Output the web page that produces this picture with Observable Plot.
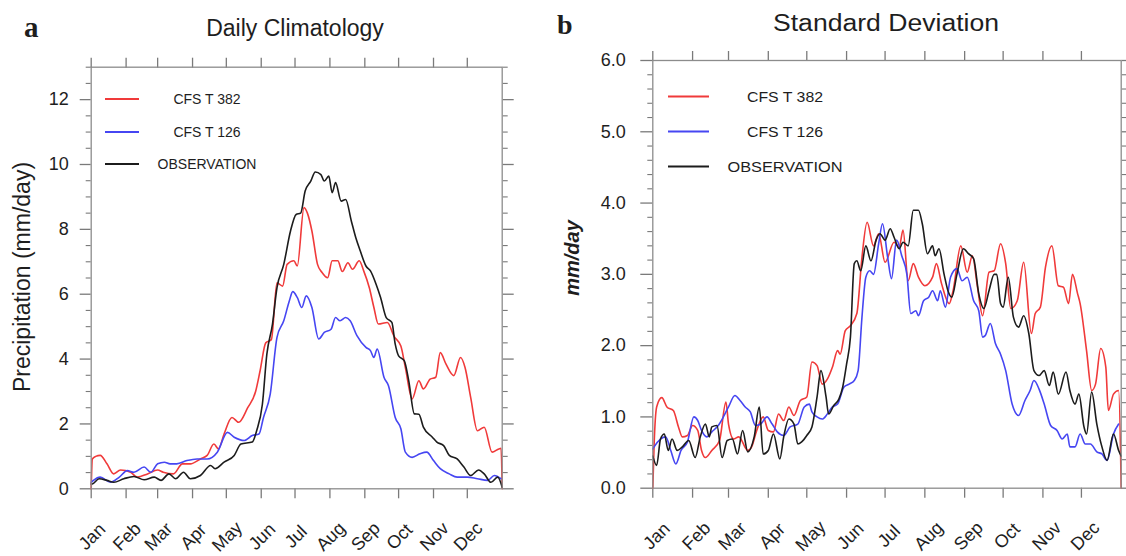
<!DOCTYPE html>
<html>
<head>
<meta charset="utf-8">
<script src="https://cdn.jsdelivr.net/npm/d3@7"></script>
<script src="https://cdn.jsdelivr.net/npm/@observablehq/plot@0.6"></script>
<style>
  html, body { margin: 0; padding: 0; background: #fff; }
  #fig { position: relative; width: 1126px; height: 556px; background: #fff; overflow: hidden; }
  #fig > svg { position: absolute; top: 0; }
</style>
</head>
<body>
<div id="fig"></div>
<script>
// ---------- data ----------
const monthStarts = [0, 31, 59, 90, 120, 151, 181, 212, 243, 273, 304, 334];
const monthLabels = ["Jan", "Feb", "Mar", "Apr", "May", "Jun", "Jul", "Aug", "Sep", "Oct", "Nov", "Dec"];
const seriesNames = ["CFS T 382", "CFS T 126", "OBSERVATION"];
const climYTicks = [0, 2, 4, 6, 8, 10, 12];
const sdYTicks = [0, 1, 2, 3, 4, 5, 6];

// Panel a: daily climatology (mm/day), [day of year, value]
const climT382 = [[0,0],[1,0.92],[4,1.0],[8,1.03],[14,0.77],[20,0.46],[26,0.58],[35,0.51],[41,0.36],[50,0.46],[59,0.58],[64,0.51],[73,0.46],[81,0.77],[88,0.77],[97,0.92],[103,1.03],[109,1.38],[113,1.23],[118,1.69],[125,2.2],[131,2.05],[139,2.5],[146,3.0],[150,3.64],[155,4.5],[160,4.6],[165,6.35],[170,6.25],[174,6.92],[180,7.03],[183,6.87],[189,8.67],[192,8.5],[196,7.95],[201,6.92],[205,6.67],[210,6.51],[214,7.03],[219,7.03],[223,6.7],[228,6.97],[232,6.77],[238,7.03],[242,6.72],[247,6.2],[251,5.6],[255,5.08],[263,5.13],[269,4.7],[275,4.4],[279,3.74],[285,2.77],[291,3.33],[295,3.08],[301,3.38],[306,3.44],[310,4.2],[315,3.85],[322,3.49],[328,4.05],[332,3.74],[337,2.82],[343,1.79],[349,1.9],[356,1.13],[362,1.23],[364,1.25],[365,0]];
const climT126 = [[0,0.2],[2,0.26],[8,0.36],[17,0.2],[25,0.36],[32,0.56],[38,0.51],[47,0.67],[53,0.51],[59,0.77],[65,0.82],[70,0.77],[76,0.77],[85,0.87],[94,0.92],[103,0.92],[112,1.13],[121,1.74],[127,1.59],[136,1.49],[143,1.64],[149,1.69],[153,2.2],[159,2.92],[165,4.67],[171,5.18],[176,5.8],[179,6.08],[183,5.9],[187,5.59],[191,5.95],[196,5.59],[202,4.62],[207,4.82],[213,4.92],[217,5.28],[221,5.18],[226,5.28],[230,5.18],[236,4.72],[244,4.36],[248,4.26],[251,4.05],[254,4.31],[260,3.44],[264,3.18],[270,2.2],[275,1.85],[279,1.13],[285,0.97],[292,1.08],[298,1.13],[304,0.87],[310,0.62],[318,0.46],[325,0.36],[334,0.36],[343,0.31],[352,0.26],[358,0.41],[364,0.31]];
const climObs = [[0,0.15],[1,0.15],[7,0.31],[14,0.26],[20,0.2],[29,0.31],[38,0.38],[47,0.28],[56,0.36],[62,0.26],[69,0.46],[75,0.31],[82,0.51],[88,0.31],[97,0.41],[106,0.72],[110,0.62],[118,0.82],[127,1.03],[133,1.38],[143,1.44],[147,1.8],[152,2.6],[156,4.15],[161,5.08],[165,6.2],[171,6.92],[177,7.95],[182,8.46],[186,8.5],[190,9.18],[195,9.49],[199,9.77],[204,9.69],[207,9.49],[211,9.64],[214,9.13],[217,9.44],[222,8.87],[226,8.92],[231,8.26],[235,7.74],[239,7.33],[244,6.87],[248,6.72],[253,6.31],[257,5.9],[262,5.28],[267,5.13],[270,4.46],[273,4.1],[278,3.95],[282,3.33],[287,2.31],[291,2.3],[295,1.9],[303,1.59],[307,1.44],[313,1.33],[318,1.03],[325,0.92],[331,0.67],[337,0.41],[344,0.58],[349,0.46],[355,0.2],[361,0.36],[365,0.05]];

// Panel b: standard deviation (mm/day), [day of year, value]
const sdT382 = [[0,0],[1,0.6],[3,1.14],[7,1.27],[11,1.14],[16,1.09],[20,0.86],[23,0.72],[27,0.74],[31,0.88],[35,0.81],[38,0.53],[41,0.43],[46,0.53],[52,0.67],[57,1.21],[59,0.9],[63,0.69],[67,0.72],[74,0.53],[77,0.58],[81,0.81],[86,1.0],[90,0.81],[94,0.79],[98,1.04],[102,0.95],[106,1.14],[110,1.02],[115,1.23],[120,1.28],[124,1.77],[128,1.72],[132,1.46],[136,1.53],[140,1.7],[144,1.93],[146,1.88],[150,2.21],[154,2.28],[159,2.45],[163,3.24],[167,3.73],[172,3.4],[176,3.57],[181,3.17],[188,3.45],[192,3.38],[195,3.62],[199,2.91],[203,3.15],[207,2.96],[212,2.84],[218,2.96],[221,3.15],[225,2.87],[231,2.59],[234,2.77],[240,3.4],[245,3.03],[249,3.26],[253,2.82],[257,2.42],[262,3.03],[266,3.05],[271,3.43],[275,3.15],[279,2.52],[284,2.63],[289,3.17],[295,2.17],[298,2.45],[302,2.54],[306,3.1],[311,3.4],[316,2.84],[320,2.82],[324,2.59],[327,3.0],[331,2.73],[333,2.59],[338,1.93],[342,1.37],[345,1.46],[349,1.96],[353,1.7],[355,1.09],[359,1.32],[363,1.37],[365,0]];
const sdT126 = [[0,0.55],[1,0.58],[6,0.69],[10,0.72],[14,0.53],[18,0.34],[22,0.53],[27,0.65],[32,1.0],[35,0.95],[38,0.81],[42,0.72],[46,0.79],[51,0.88],[55,1.0],[59,1.14],[64,1.3],[68,1.23],[72,1.14],[76,1.07],[80,0.88],[84,0.9],[89,1.0],[93,0.9],[97,0.79],[102,0.74],[107,0.86],[113,0.9],[118,1.14],[122,1.18],[124,1.07],[128,1.0],[132,0.97],[136,1.04],[140,1.14],[144,1.18],[149,1.42],[153,1.46],[157,1.51],[160,1.65],[163,2.4],[166,2.96],[169,3.05],[172,3.0],[176,3.43],[179,3.71],[183,3.24],[186,2.94],[190,3.48],[194,3.26],[198,3.0],[201,2.45],[205,2.49],[207,2.42],[211,2.63],[215,2.68],[218,2.77],[222,2.63],[224,2.77],[228,2.54],[232,2.96],[237,3.08],[241,2.91],[245,2.96],[250,2.63],[254,2.49],[257,2.12],[259,2.14],[263,2.31],[267,2.03],[271,1.88],[275,1.65],[280,1.18],[285,1.02],[290,1.23],[294,1.37],[297,1.51],[301,1.39],[305,1.18],[310,0.88],[315,0.81],[319,0.69],[323,0.76],[325,0.58],[329,0.58],[333,0.76],[337,0.62],[341,0.62],[346,0.51],[350,0.48],[354,0.39],[359,0.76],[363,0.9]];
const sdObs = [[0,0.45],[3,0.32],[6,0.69],[9,0.76],[12,0.53],[15,0.69],[19,0.53],[23,0.58],[28,0.67],[33,0.43],[37,0.72],[41,0.9],[44,0.72],[46,0.86],[50,0.88],[54,0.43],[58,0.67],[62,0.69],[66,0.48],[70,0.81],[74,0.51],[79,0.72],[83,1.14],[86,0.48],[90,0.53],[94,0.76],[99,0.41],[102,0.72],[106,0.97],[110,0.9],[113,0.62],[116,0.65],[120,0.74],[124,0.86],[128,1.28],[131,1.65],[135,1.28],[137,1.04],[141,1.16],[145,1.25],[148,1.42],[151,1.74],[154,2.12],[157,3.15],[159,3.19],[162,3.05],[166,3.4],[170,3.19],[174,3.48],[177,3.57],[181,3.48],[185,3.64],[188,3.52],[192,3.36],[195,3.45],[199,3.4],[203,3.9],[207,3.9],[210,3.71],[214,3.29],[218,3.4],[220,3.26],[223,3.36],[227,3.0],[230,2.77],[233,2.68],[237,3.0],[242,3.36],[246,3.29],[250,3.22],[254,2.73],[258,2.52],[262,2.77],[266,3.0],[268,3.0],[271,2.59],[273,2.54],[277,2.96],[281,2.4],[285,2.26],[289,2.42],[293,2.17],[297,1.65],[301,1.58],[305,1.65],[309,1.44],[312,1.63],[316,1.32],[322,1.63],[325,1.37],[329,1.18],[332,1.32],[336,0.86],[338,0.76],[342,1.35],[346,0.9],[350,0.58],[354,0.39],[359,0.76],[363,0.53],[365,0.45]];

// ---------- styling ----------
const FONT = "'Liberation Sans', Arial, Helvetica, sans-serif";
const SERIF = "'Liberation Serif', 'Times New Roman', serif";
const COLORS = ["#f03a3a", "#4646f2", "#1c1c1c"];
const TICK = "#7a7a7a";
const FRAME = "#8c8c8c";
const TEXT = "#1e1e1e";

function makePanel(o) {
  const minorTicks = d3.range(0, o.yMax + 1e-9, o.minorStep)
    .filter(v => !o.yTicks.some(t => Math.abs(t - v) < 1e-9));
  const blank = () => "";
  const lines = o.series.map((s, k) =>
    Plot.line(s, {x: d => d[0], y: d => d[1], stroke: COLORS[k], strokeWidth: 1.6,
                  strokeLinejoin: "round", curve: "monotone-x"}));
  return Plot.plot({
    width: o.width, height: 556,
    marginLeft: o.mL, marginRight: o.mR, marginTop: o.mT, marginBottom: o.mB,
    style: {fontFamily: FONT, background: "transparent", overflow: "visible", color: TEXT},
    x: {domain: [0, 365]},
    y: {domain: [0, o.yMax]},
    marks: [
      Plot.axisY({ticks: minorTicks, tickSize: 5, tickFormat: blank, stroke: TICK, strokeWidth: 1.1, label: null}),
      Plot.axisY({ticks: minorTicks, anchor: "right", tickSize: 5, tickFormat: blank, stroke: TICK, strokeWidth: 1.1, label: null}),
      Plot.axisY({ticks: o.yTicks, tickSize: o.majorTick, tickPadding: o.tickPad, tickFormat: o.fmt, fontSize: o.fs, stroke: TICK, strokeWidth: 1.3, fill: TEXT, label: null}),
      Plot.axisY({ticks: o.yTicks, anchor: "right", tickSize: o.majorTick, tickFormat: blank, stroke: TICK, strokeWidth: 1.3, label: null}),
      Plot.axisX({ticks: monthStarts, anchor: "top", tickSize: 10, tickFormat: blank, stroke: TICK, strokeWidth: 1.3, label: null}),
      Plot.axisX({ticks: monthStarts, anchor: "bottom", tickSize: 10, tickFormat: blank, stroke: TICK, strokeWidth: 1.3, label: null}),
      Plot.text(monthLabels, {x: (d, i) => monthStarts[i], frameAnchor: "bottom", dx: o.labDx, dy: 52, rotate: -45, fontSize: 18, fill: TEXT}),
      ...lines,
      Plot.frame({stroke: FRAME, strokeWidth: 1.3})
    ]
  });
}

const fig = document.getElementById("fig");

const panelA = makePanel({
  width: 540, mL: 90.7, mR: 38.3, mT: 66.7, mB: 67.7,
  yMax: 13, yTicks: climYTicks, minorStep: 0.5, majorTick: 11, tickPad: 11.5,
  fmt: d3.format("d"), fs: 18, labDx: 5,
  series: [climT382, climT126, climObs]
});
panelA.style.left = "0px";
fig.appendChild(panelA);

const panelB = makePanel({
  width: 586, mL: 112.3, mR: 5.3, mT: 60, mB: 68.3,
  yMax: 6, yTicks: sdYTicks, minorStep: 0.2, majorTick: 12, tickPad: 15,
  fmt: d3.format(".1f"), fs: 18, labDx: 8,
  series: [sdT382, sdT126, sdObs]
});
panelB.style.left = "540px";
fig.appendChild(panelB);

// ---------- overlay: panel letters, titles, y labels, legends ----------
const ov = d3.select(fig).append("svg")
  .attr("width", 1126).attr("height", 556)
  .style("left", "0px").style("pointer-events", "none")
  .style("font-family", FONT);

function txt(x, y, s, opts = {}) {
  const t = ov.append("text").attr("x", x).attr("y", y).text(s)
    .attr("fill", TEXT)
    .attr("font-size", opts.size || 14)
    .attr("text-anchor", opts.anchor || "start");
  if (opts.weight) t.attr("font-weight", opts.weight);
  if (opts.style) t.attr("font-style", opts.style);
  if (opts.family) t.attr("font-family", opts.family);
  if (opts.len) t.attr("textLength", opts.len).attr("lengthAdjust", "spacingAndGlyphs");
  if (opts.rotate) t.attr("transform", `rotate(${opts.rotate},${x},${y})`);
  if (opts.baseline) t.attr("dominant-baseline", opts.baseline);
  return t;
}

// panel letters
txt(24, 37, "a", {size: 29, weight: "bold", family: SERIF});
txt(557, 34, "b", {size: 28, weight: "bold", family: SERIF});

// titles
txt(295, 36, "Daily Climatology", {size: 23, anchor: "middle"});
txt(886, 31, "Standard Deviation", {size: 23, anchor: "middle", len: 226});

// y labels
txt(22, 277, "Precipitation (mm/day)", {size: 23, anchor: "middle", rotate: -90, baseline: "central"});
txt(572, 258, "mm/day", {size: 20, anchor: "middle", rotate: -90, baseline: "central", weight: "bold", style: "italic"});

// legends
function legend(x1, x2, tx, ys, size, lens) {
  seriesNames.forEach((name, k) => {
    ov.append("line").attr("x1", x1).attr("x2", x2).attr("y1", ys[k]).attr("y2", ys[k])
      .attr("stroke", COLORS[k]).attr("stroke-width", 2);
    txt(tx, ys[k], name, {size, anchor: "middle", baseline: "central", len: lens ? lens[k] : null});
  });
}
legend(105, 139, 207, [99, 132, 164], 14, null);
legend(668, 709, 785, [96.5, 131.5, 166.5], 14, [76, 76, 115]);
</script>
</body>
</html>
